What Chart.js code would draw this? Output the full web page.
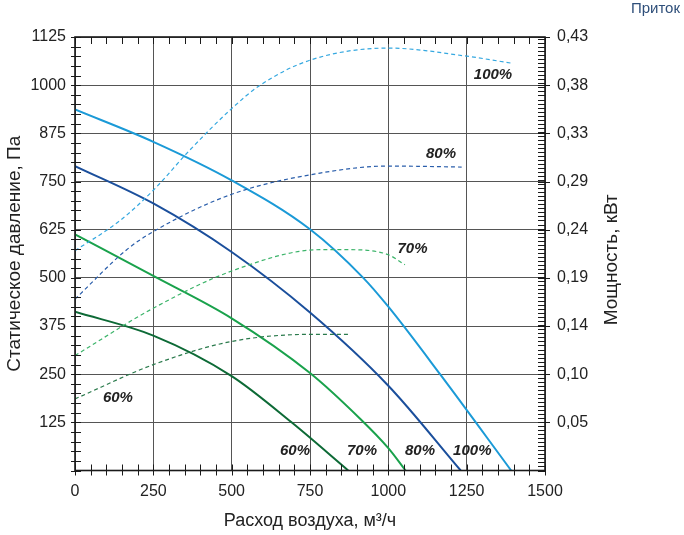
<!DOCTYPE html>
<html>
<head>
<meta charset="utf-8">
<script src="https://cdn.jsdelivr.net/npm/chart.js@4"></script>
<style>
  html, body { margin: 0; padding: 0; background: #fff; }
</style>
</head>
<body>
<canvas id="fanChart" width="684" height="535"></canvas>
<script>
// Кривые вентилятора: расход (м3/ч) -> статическое давление (Па)
const flow100 = [0, 250, 500, 750, 920, 1000, 1165, 1392];
const pressure100 = [937, 853, 753, 626, 500, 425, 250, 0];
const flow80 = [0, 250, 500, 750, 1000, 1231];
const pressure80 = [790, 693, 567, 410, 220, 0];
const flow70 = [0, 250, 500, 750, 909, 1000, 1055];
const pressure70 = [613, 505, 395, 253, 135, 58, 0];
const flow60 = [0, 250, 500, 691, 872];
const pressure60 = [412, 350, 245, 125, 0];

// Потребляемая мощность (кВт)
const powerFlow100 = [0, 144, 250, 367, 500, 590, 750, 1000, 1250, 1394];
const power100 = [0.218, 0.248, 0.278, 0.318, 0.359, 0.382, 0.407, 0.419, 0.411, 0.404];
const powerFlow80 = [0, 165, 250, 500, 782, 1000, 1234];
const power80 = [0.170, 0.219, 0.237, 0.274, 0.295, 0.302, 0.301];
const powerFlow70 = [0, 250, 510, 782, 880, 1000, 1053];
const power70 = [0.114, 0.161, 0.199, 0.219, 0.219, 0.214, 0.204];
const powerFlow60 = [0, 250, 500, 750, 877];
const power60 = [0.071, 0.105, 0.128, 0.135, 0.135];

// Оси
const flowTicks = [0, 250, 500, 750, 1000, 1250, 1500];
const pressureTicks = [125, 250, 375, 500, 625, 750, 875, 1000, 1125];
const powerTickLabels = ["0,05", "0,10", "0,14", "0,19", "0,24", "0,29", "0,33", "0,38", "0,43"];
const powerMax = 0.43;
const kwPerPa = powerMax / 1125;

// Подписи кривых (расход, давление)
const curveLabels = [
    { text: "100%", flow: 1334, pressure: 1028 },
    { text: "80%", flow: 1168, pressure: 821 },
    { text: "70%", flow: 1077, pressure: 574 },
    { text: "60%", flow: 137, pressure: 188 },
    { text: "60%", flow: 702, pressure: 51 },
    { text: "70%", flow: 916, pressure: 51 },
    { text: "80%", flow: 1101, pressure: 51 },
    { text: "100%", flow: 1268, pressure: 51 }
];

const FONT = '"Liberation Sans", Arial, sans-serif';

function pairs(xs, ys) {
    return xs.map((x, i) => ({ x: x, y: ys[i] }));
}

function solid(xs, ys, color) {
    return { data: pairs(xs, ys), borderColor: color, borderWidth: 2, yAxisID: "y",
             pointRadius: 0, showLine: true, fill: false, cubicInterpolationMode: "monotone" };
}

function dashed(xs, ys, color) {
    return { data: pairs(xs, ys), borderColor: color, borderWidth: 1.2, borderDash: [4, 3], yAxisID: "y1",
             pointRadius: 0, showLine: true, fill: false, cubicInterpolationMode: "monotone" };
}

// Доп. разметка: мелкие риски, рамка, подписи
const decorPlugin = {
    id: "decor",
    afterDraw(chart) {
        const { ctx, chartArea: a, scales } = chart;
        const x = scales.x, y = scales.y, y1 = scales.y1;
        ctx.save();
        ctx.strokeStyle = "#1a1a1a";
        ctx.lineWidth = 1;
        ctx.beginPath();
        for (let v = 0; v <= 1500; v += 50) {
            const px = Math.round(x.getPixelForValue(v)) + 0.5;
            ctx.moveTo(px, a.bottom - 6); ctx.lineTo(px, a.bottom + 5);
            ctx.moveTo(px, a.top); ctx.lineTo(px, a.top + 7);
        }
        for (let v = 0; v <= 1125; v += 25) {
            const py = Math.round(y.getPixelForValue(v)) + 0.5;
            ctx.moveTo(a.left - 4, py); ctx.lineTo(a.left + 6, py);
        }
        for (let v = 0; v <= powerMax + 1e-9; v += 0.004) {
            const py = Math.round(y1.getPixelForValue(v)) + 0.5;
            ctx.moveTo(a.right - 7, py); ctx.lineTo(a.right, py);
        }
        pressureTicks.forEach(p => {
            const py = Math.round(y.getPixelForValue(p)) + 0.5;
            ctx.moveTo(a.right - 7, py); ctx.lineTo(a.right + 5, py);
        });
        ctx.stroke();

        ctx.lineWidth = 1.6;
        ctx.strokeRect(a.left, a.top, a.right - a.left, a.bottom - a.top);

        ctx.fillStyle = "#222";
        ctx.font = "italic bold 15px " + FONT;
        ctx.textAlign = "center";
        ctx.textBaseline = "middle";
        curveLabels.forEach(l => {
            ctx.fillText(l.text, x.getPixelForValue(l.flow), y.getPixelForValue(l.pressure));
        });

        ctx.font = "15px " + FONT;
        ctx.fillStyle = "#2f4f7a";
        ctx.textAlign = "right";
        ctx.fillText("Приток", 680, 9);

        ctx.fillStyle = "#222";
        ctx.font = "19px " + FONT;
        ctx.translate(612, (a.top + a.bottom) / 2 + 6);
        ctx.rotate(-Math.PI / 2);
        ctx.textAlign = "center";
        ctx.fillText("Мощность, кВт", 0, 0);
        ctx.restore();
    }
};

new Chart(document.getElementById("fanChart"), {
    type: "scatter",
    data: {
        datasets: [
            dashed(powerFlow100, power100, "#35a8e0"),
            dashed(powerFlow80, power80, "#2a5eab"),
            dashed(powerFlow70, power70, "#3cb46a"),
            dashed(powerFlow60, power60, "#2a7a4c"),
            solid(flow100, pressure100, "#1b9ad7"),
            solid(flow80, pressure80, "#1b4f9c"),
            solid(flow70, pressure70, "#1aa24c"),
            solid(flow60, pressure60, "#0d6a36")
        ]
    },
    options: {
        responsive: false,
        animation: false,
        layout: { padding: { top: 37, left: 0, right: 0, bottom: 0 } },
        plugins: { legend: { display: false }, tooltip: { enabled: false } },
        scales: {
            x: {
                type: "linear", min: 0, max: 1500,
                afterBuildTicks: s => { s.ticks = flowTicks.map(v => ({ value: v })); },
                afterFit: s => { s.height = 64.5; },
                grid: { color: "#555", lineWidth: 1, drawTicks: false },
                border: { display: false },
                ticks: { color: "#222", padding: 11, font: { family: FONT, size: 16 },
                         callback: v => String(v) },
                title: { display: true, text: "Расход воздуха, м³/ч", color: "#222",
                         font: { family: FONT, size: 18 }, padding: { top: 0, bottom: 3 } }
            },
            y: {
                type: "linear", position: "left", min: 0, max: 1125,
                afterBuildTicks: s => { s.ticks = pressureTicks.map(v => ({ value: v })); },
                afterFit: s => { s.width = 75; },
                grid: { color: "#555", lineWidth: 1, drawTicks: false },
                border: { display: false },
                ticks: { color: "#222", padding: 9, font: { family: FONT, size: 16 },
                         callback: v => String(v) },
                title: { display: true, text: "Статическое давление, Па", color: "#222",
                         font: { family: FONT, size: 19 }, padding: { top: 3, bottom: 0 } }
            },
            y1: {
                type: "linear", position: "right", min: 0, max: powerMax,
                afterBuildTicks: s => { s.ticks = pressureTicks.map(v => ({ value: v * kwPerPa })); },
                afterFit: s => { s.width = 139; },
                grid: { display: false, drawTicks: false },
                border: { display: false },
                ticks: { color: "#222", padding: 12, font: { family: FONT, size: 16 },
                         callback: (v, i) => powerTickLabels[i] }
            }
        }
    },
    plugins: [decorPlugin]
});
</script>
</body>
</html>
